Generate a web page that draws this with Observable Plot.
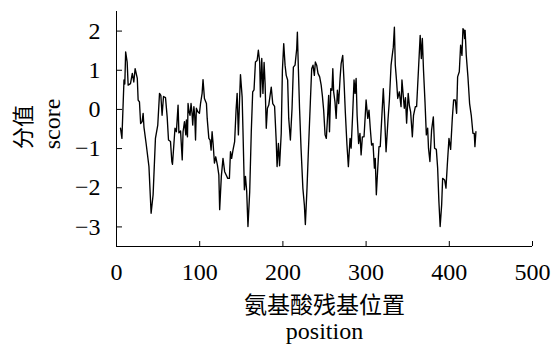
<!DOCTYPE html>
<html>
<head>
<meta charset="utf-8">
<script src="https://cdn.jsdelivr.net/npm/d3@7"></script>
<script src="https://cdn.jsdelivr.net/npm/@observablehq/plot@0.6"></script>
<style>
  html, body { margin: 0; padding: 0; background: #fff; }
  svg text { font-family: 'Liberation Serif', 'Times New Roman', 'Noto Sans CJK SC', serif; }
</style>
</head>
<body>
<div id="chart"></div>
<script>
// ---- data ----
const positions = [
  4.8, 6.5, 9, 10, 11, 12.8, 14, 16.8, 19, 20.8, 22.4, 25, 26, 27.6, 29, 30.8, 32, 33, 35.6, 39,
  41.6, 44, 46.8, 49.6, 51.7, 53.3, 54.8, 56.5, 58.9, 60.9, 62.5, 64.9, 66.5, 67.3, 70.3, 72, 74, 75, 77, 79,
  80, 81.7, 83.3, 84, 85.3, 86, 87.2, 88.4, 89.6, 90.8, 91.6, 93, 94, 95, 96, 97.7, 99.7, 101, 102.9, 104,
  105.7, 108.1, 109, 111, 112.5, 113.7, 114.9, 116.1, 117.7, 119.3, 121.3, 123, 124, 126, 128, 130, 131.7, 133.7, 135.7, 137,
  138.4, 140, 142, 143.7, 145, 146.5, 147.7, 149, 151, 152, 153.7, 155, 156.5, 158, 160.1, 162, 163.7, 165.3, 167, 169,
  170.5, 172.1, 173, 174.6, 176, 177.4, 178.6, 180, 181.4, 183, 186, 187.8, 190, 192, 193, 194.6, 196, 198, 199.4, 201,
  202.6, 204, 205.7, 207, 209, 211, 212.6, 214.6, 216.6, 217.4, 218.6, 220, 221.8, 224, 225.8, 227, 229, 230.6, 233, 234.6,
  236.2, 237.8, 239, 240.6, 242.2, 244.2, 246, 247.4, 249, 250.7, 252.2, 253.8, 255, 256, 257.5, 259, 260, 261, 262.6, 264,
  265.5, 267, 268.7, 270, 271.9, 273.5, 275, 277, 278.7, 280.7, 282, 283.8, 285.5, 286.7, 288, 289.2, 291, 292.6, 294, 295.5,
  297.5, 299, 300, 302, 303.5, 305, 306.6, 308.3, 310, 311, 312.3, 314, 315.5, 317, 319, 320.7, 322, 324, 326.3, 328,
  330, 331.2, 332.7, 334, 335.1, 336.7, 338, 339.9, 342, 343.1, 345.9, 347.3, 348.7, 350.6, 352, 353.5, 355.6, 357, 359.2, 360.7,
  363, 365, 366.4, 367.6, 369, 370.8, 372.4, 374, 375, 376.7, 378.7, 380.8, 382.3, 384.4, 386, 387.5, 389, 390.8, 392,
  394.4, 396, 397.6, 399.6, 401.6, 403.6, 405.2, 407.2, 408.8, 410, 412, 413.6, 415.2, 416.4, 417.6, 418.4, 419, 420.4, 422.4, 424.4,
  426.4, 428.4, 430, 430.8, 432
];
const scores = [
  -0.48, -0.74, 0.75, 0.65, 1.47, 1.21, 0.62, 0.66, 0.92, 0.7, 1.04, 0.79, 0.24, 0.19, -0.36, -0.31, -0.1, -0.45, -0.87, -1.46,
  -2.65, -2.18, -0.74, -0.4, 0.41, 0.36, -0.15, 0.33, 0.3, -0.19, -0.78, -0.82, -1.33, -1.4, -0.48, -0.57, 0.11, -0.6, -0.55, -1.29,
  -0.57, -0.31, -0.65, -0.27, -0.7, 0.15, -0.06, -0.15, 0.15, -0.1, -0.4, 0.07, -0.15, -0.78, 0.03, -0.06, -0.1, 0.15, 0.41, 0.76,
  0.28, 0.15, -0.23, -0.74, -0.78, -1.04, -0.57, -0.87, -1.37, -1.21, -1.42, -1.67, -2.56, -1.71, -1.25, -1.59, -1.67, -1.76, -1.76, -1.08,
  -1.25, -1.04, -0.82, -0.02, 0.41, -0.65, 0.11, 0.89, 0.32, -0.53, -2.05, -1.71, -2.1, -2.99, -2.1, -0.57, 0.45, 0.5, 1.21, 1.25,
  1.51, 1.21, 0.32, 1.3, 0.41, 1.2, 0.66, -0.48, 0.03, 0.11, 0.57, 0.15, 0.08, -0.82, -1.46, -0.87, -1.44, -0.61, 1.0, 1.68,
  1.13, 0.87, 0.75, -0.23, -0.78, 0.03, 1.08, 1.13, 1.55, 1.97, 1.04, 0.03, -0.99, -2.01, -2.44, -2.94, -2.0, -1.08, 0.19, 1.04,
  1.13, 0.87, 1.21, 1.13, 0.92, 0.83, 0.62, 0.36, -0.02, -0.65, -0.74, -0.15, 0.36, -0.57, 0.53, 0.49, 1.04, 0.45, 0.19, -0.23,
  0.49, 0.15, 0.79, 1.17, 1.38, 0.7, -0.06, -0.91, -1.46, -0.74, -0.99, -0.15, 0.75, 0.41, 0.79, -0.15, -0.87, -0.61, -1.16, -0.7,
  -0.7, -0.15, 0.24, -0.23, -0.02, -0.48, -0.91, -0.87, -1.5, -1.25, -2.18, -1.5, -0.95, -0.95, -0.15, 0.53, -0.06, -1.08, -0.27, 0.24,
  1.13, 1.34, 1.59, 2.1, 1.13, 0.7, 0.28, 0.45, 0.07, 0.75, 0.03, 0.3, -0.35, 0.41, 0.1, -0.06, -0.7, -0.15, 0.07, 0.07,
  1.04, 1.89, 1.3, 1.81, 1.0, 0.19, -0.65, -0.48, -0.99, -1.33, -0.53, -0.19, -0.99, -1.02, -1.5, -2.35, -2.99, -2.44, -1.76,
  -1.8, -2.01, -1.42, -0.74, -1.02, -0.23, 0.24, 0.24, -0.1, 0.83, 0.96, 1.64, 1.38, 2.06, 2.02, 1.81, 2.02, 1.38, 0.83, 0.15,
  -0.15, -0.61, -0.61, -0.95, -0.57
];
const xTicks = [0, 100, 200, 300, 400, 500];
const xTickLabels = ["0", "100", "200", "300", "400", "500"];
const yTicks = [-3, -2, -1, 0, 1, 2];
const yTickLabels = ["\u22123", "\u22122", "\u22121", "0", "1", "2"];
const xDomain = [0, 500];
const yDomain = [-3.5, 2.5];
const xLabelZh = "氨基酸残基位置";
const xLabelEn = "position";
const yLabelZh = "分值";
const yLabelEn = "score";

const table = positions.map((p, i) => ({pos: p, score: scores[i]}));
const FONT = "'Liberation Serif', 'Times New Roman', 'Noto Sans CJK SC', serif";

const chart = Plot.plot({
  width: 551,
  height: 344,
  marginLeft: 116,
  marginRight: 19,
  marginTop: 11,
  marginBottom: 98,
  style: {
    fontFamily: FONT,
    fontSize: "24px",
    color: "#000",
    background: "#fff"
  },
  x: {domain: xDomain},
  y: {domain: yDomain},
  marks: [
    Plot.ruleX([xDomain[0]], {stroke: "#000", strokeWidth: 1}),
    Plot.ruleY([yDomain[0]], {stroke: "#000", strokeWidth: 1}),
    // tick lines only (pointing inward)
    Plot.axisX(xTicks, {tickSize: -5, tickFormat: () => "", label: null}),
    Plot.axisY(yTicks, {tickSize: -6, tickFormat: () => "", label: null}),
    // tick labels
    Plot.text(xTicks, {
      x: d => d, text: d => xTickLabels[xTicks.indexOf(d)],
      frameAnchor: "bottom", textAnchor: "middle", lineAnchor: "top", dy: 16,
      fontSize: 24, fontFamily: FONT, fill: "#000"
    }),
    Plot.text(yTicks, {
      y: d => d, text: d => yTickLabels[yTicks.indexOf(d)],
      frameAnchor: "left", textAnchor: "end", lineAnchor: "middle", dx: -16,
      fontSize: 24, fontFamily: FONT, fill: "#000"
    }),
    Plot.line(table, {x: "pos", y: "score", stroke: "#000", strokeWidth: 1.35}),
    Plot.text([xLabelZh], {frameAnchor: "bottom", textAnchor: "middle", lineAnchor: "bottom", dy: 66, fontSize: 23, fontFamily: FONT, fill: "#000"}),
    Plot.text([xLabelEn], {frameAnchor: "bottom", textAnchor: "middle", lineAnchor: "bottom", dy: 92, fontSize: 24, fontFamily: FONT, fill: "#000"}),
    Plot.text([yLabelZh], {frameAnchor: "left", textAnchor: "middle", lineAnchor: "bottom", rotate: -90, dx: -86, dy: -2, fontSize: 22, fontFamily: FONT, fill: "#000"}),
    Plot.text([yLabelEn], {frameAnchor: "left", textAnchor: "middle", lineAnchor: "bottom", rotate: -90, dx: -57, dy: -5, fontSize: 24, fontFamily: FONT, fill: "#000"})
  ]
});
document.getElementById("chart").appendChild(chart);
</script>
</body>
</html>
